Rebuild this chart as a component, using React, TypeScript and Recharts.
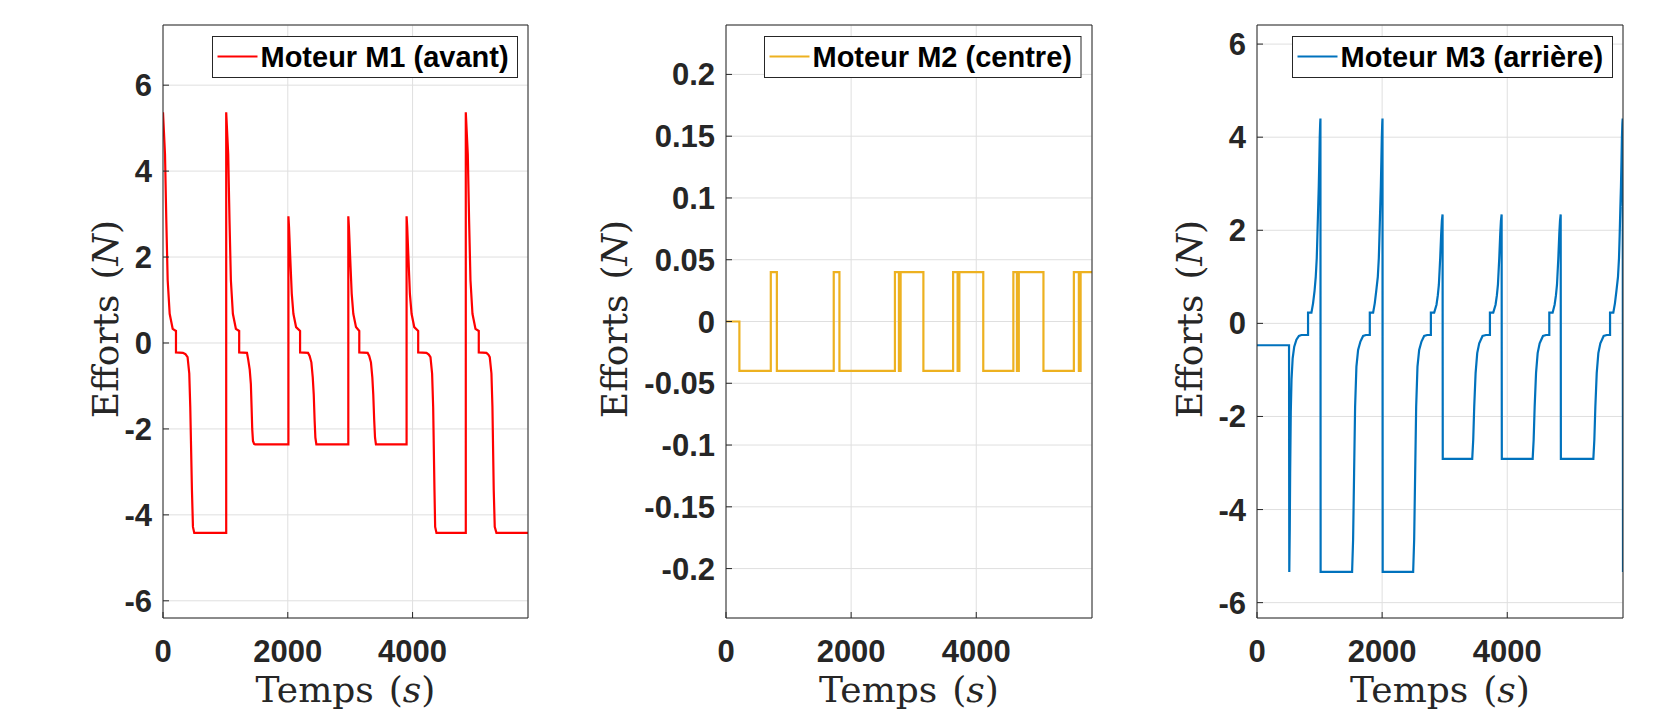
import React from "react";
import { CartesianGrid, Line, LineChart, XAxis, YAxis } from "recharts";

const timeMax = 5850;
const timeTicks = [0, 2000, 4000];

const m1Ticks = [-6, -4, -2, 0, 2, 4, 6];
const m2Ticks = [-0.2, -0.15, -0.1, -0.05, 0, 0.05, 0.1, 0.15, 0.2];
const m3Ticks = [-6, -4, -2, 0, 2, 4, 6];

// Moteur M1 (avant) : [temps (s), effort (N)]
const m1Points: [number, number][] = [
  [0, 5.37], [32, 4.4], [53, 2.85], [75, 1.46], [107, 0.68], [155, 0.33], [208, 0.28],
  [208, -0.22], [320, -0.23], [360, -0.26], [394, -0.33], [421, -0.71], [437, -1.49],
  [464, -3.43], [480, -4.28], [501, -4.42], [1013, -4.42],
  [1013, 5.37], [1045, 4.4], [1066, 2.85], [1088, 1.46], [1120, 0.68], [1168, 0.33], [1221, 0.28],
  [1221, -0.22], [1346, -0.23], [1365, -0.38], [1390, -0.62], [1408, -0.95], [1420, -1.5],
  [1430, -2.0], [1442, -2.28], [1460, -2.35], [1477, -2.36], [2010, -2.36],
  [2010, 2.95], [2020, 2.7], [2037, 2.08], [2064, 1.15], [2090, 0.68], [2133, 0.37], [2197, 0.28],
  [2197, -0.22], [2325, -0.23], [2350, -0.3], [2378, -0.45], [2400, -0.8], [2416, -1.2],
  [2430, -1.8], [2442, -2.2], [2458, -2.36], [2970, -2.36],
  [2970, 2.95], [2980, 2.7], [2997, 2.08], [3024, 1.15], [3050, 0.68], [3093, 0.37], [3146, 0.28],
  [3146, -0.22], [3280, -0.23], [3305, -0.3], [3333, -0.45], [3355, -0.8], [3370, -1.2],
  [3385, -1.8], [3398, -2.2], [3413, -2.36], [3904, -2.36],
  [3904, 2.95], [3914, 2.7], [3931, 2.08], [3957, 1.15], [3984, 0.68], [4027, 0.37], [4090, 0.28],
  [4090, -0.22], [4223, -0.23], [4260, -0.27], [4287, -0.33], [4313, -0.71], [4330, -1.49],
  [4351, -3.43], [4362, -4.28], [4383, -4.42], [4853, -4.42],
  [4853, 5.37], [4885, 4.4], [4906, 2.85], [4928, 1.46], [4960, 0.68], [5008, 0.33], [5061, 0.28],
  [5061, -0.22], [5184, -0.23], [5215, -0.27], [5237, -0.33], [5264, -0.71], [5280, -1.49],
  [5301, -3.43], [5317, -4.28], [5344, -4.42], [5850, -4.42],
];

// Moteur M2 (centre)
const m2Points: [number, number][] = [
  [0, 0], [214, 0], [214, -0.04], [716, -0.04], [716, 0.04], [813, 0.04], [813, -0.04],
  [1722, -0.04], [1722, 0.04], [1813, 0.04], [1813, -0.04], [2700, -0.04], [2700, 0.04],
  [2764, 0.04], [2764, -0.04], [2791, -0.04], [2791, 0.04], [3155, 0.04], [3155, -0.04],
  [3630, -0.04], [3630, 0.04], [3702, 0.04], [3702, -0.04], [3730, -0.04], [3730, 0.04],
  [4112, 0.04], [4112, -0.04], [4593, -0.04], [4593, 0.04], [4650, 0.04], [4650, -0.04],
  [4680, -0.04], [4680, 0.04], [5074, 0.04], [5074, -0.04], [5560, -0.04], [5560, 0.04],
  [5640, 0.04], [5640, -0.04], [5668, -0.04], [5668, 0.04], [5850, 0.04],
];

// Moteur M3 (arrière)
const m3Points: [number, number][] = [
  [0, -0.47], [512, -0.47], [516, -5.34], [524, -4.4], [530, -3.2], [540, -1.9], [552, -1.2],
  [570, -0.75], [595, -0.5], [630, -0.35], [670, -0.27], [710, -0.25], [816, -0.25],
  [816, 0.23], [870, 0.23], [896, 0.43], [920, 0.7], [939, 1.0], [955, 1.4], [965, 1.86],
  [978, 2.5], [987, 2.93], [996, 3.5], [1003, 4.0], [1010, 4.3], [1014, 4.4], [1017, -5.34],
  [1520, -5.34], [1536, -4.65], [1552, -3.22], [1568, -1.79], [1589, -0.93], [1616, -0.57],
  [1653, -0.39], [1696, -0.27], [1740, -0.25], [1803, -0.25], [1803, 0.23], [1856, 0.23],
  [1882, 0.43], [1906, 0.7], [1931, 1.0], [1947, 1.4], [1957, 1.86], [1970, 2.5], [1979, 2.93],
  [1988, 3.5], [1995, 4.0], [2002, 4.3], [2006, 4.4], [2009, -5.34],
  [2496, -5.34], [2512, -4.65], [2528, -3.22], [2544, -1.79], [2565, -0.93], [2592, -0.57],
  [2629, -0.39], [2672, -0.27], [2720, -0.25], [2779, -0.25], [2779, 0.23], [2832, 0.23],
  [2869, 0.4], [2890, 0.6], [2907, 0.83], [2928, 1.4], [2944, 1.93], [2955, 2.2], [2966, 2.34],
  [2969, -2.91],
  [3440, -2.91], [3456, -2.5], [3472, -1.79], [3494, -1.07], [3520, -0.64], [3552, -0.43],
  [3605, -0.27], [3660, -0.25], [3723, -0.25], [3723, 0.23], [3776, 0.23], [3813, 0.4],
  [3834, 0.6], [3851, 0.83], [3872, 1.4], [3888, 1.93], [3899, 2.2], [3910, 2.34], [3913, -2.91],
  [4406, -2.91], [4422, -2.5], [4438, -1.79], [4460, -1.07], [4486, -0.64], [4518, -0.43],
  [4571, -0.27], [4620, -0.25], [4672, -0.25], [4672, 0.23], [4725, 0.23], [4757, 0.4],
  [4778, 0.6], [4795, 0.83], [4816, 1.4], [4832, 1.93], [4843, 2.2], [4854, 2.34], [4857, -2.91],
  [5376, -2.91], [5392, -2.5], [5408, -1.79], [5430, -1.07], [5456, -0.64], [5488, -0.43],
  [5541, -0.27], [5590, -0.25], [5643, -0.25], [5643, 0.23], [5695, 0.23], [5721, 0.43],
  [5745, 0.7], [5770, 1.0], [5786, 1.4], [5796, 1.86], [5808, 2.5], [5817, 2.93], [5826, 3.5],
  [5833, 4.0], [5840, 4.3], [5845, 4.4], [5850, -5.34],
];

const AXIS = "#262626";
const GRID = "#dfdfdf";
const SANS = "'Liberation Sans', Arial, sans-serif";
const SERIF = "'DejaVu Serif', serif";
const H = 713;

const toRows = (pts: [number, number][]) => pts.map(([t, f]) => ({ t, f }));

type PanelProps = {
  left: number;
  width: number;
  axisWidth: number;
  marginRight: number;
  points: [number, number][];
  color: string;
  domain: [number, number];
  ticks: number[];
};

function Panel({ left, width, axisWidth, marginRight, points, color, domain, ticks }: PanelProps) {
  const tickStyle = { fill: AXIS, fontSize: 31, fontWeight: 700, fontFamily: SANS };
  return (
    <div style={{ position: "absolute", left, top: 0 }}>
      <LineChart
        width={width}
        height={H}
        data={toRows(points)}
        margin={{ top: 24, right: marginRight, bottom: 35, left: 0 }}
      >
        <CartesianGrid stroke={GRID} />
        <XAxis
          dataKey="t"
          type="number"
          domain={[0, timeMax]}
          allowDataOverflow
          ticks={timeTicks}
          interval={0}
          height={60}
          tickSize={-6}
          tickMargin={28}
          axisLine={{ stroke: AXIS }}
          tickLine={{ stroke: AXIS }}
          tick={tickStyle}
        />
        <XAxis
          xAxisId="top"
          orientation="top"
          type="number"
          domain={[0, timeMax]}
          allowDataOverflow
          ticks={timeTicks}
          interval={0}
          height={1}
          tickSize={-6}
          axisLine={{ stroke: AXIS }}
          tickLine={{ stroke: AXIS }}
          tick={false}
        />
        <YAxis
          type="number"
          domain={domain}
          allowDataOverflow
          ticks={ticks}
          interval={0}
          width={axisWidth}
          tickSize={-6}
          tickMargin={17}
          axisLine={{ stroke: AXIS }}
          tickLine={{ stroke: AXIS }}
          tick={tickStyle}
        />
        <YAxis
          yAxisId="right"
          orientation="right"
          type="number"
          domain={domain}
          allowDataOverflow
          ticks={ticks}
          interval={0}
          width={1}
          tickSize={-6}
          axisLine={{ stroke: AXIS }}
          tickLine={{ stroke: AXIS }}
          tick={false}
        />
        <Line
          dataKey="f"
          type="linear"
          stroke={color}
          strokeWidth={2.2}
          dot={false}
          activeDot={false}
          isAnimationActive={false}
        />
      </LineChart>
    </div>
  );
}

function LegendBox({ x, w, color, label }: { x: number; w: number; color: string; label: string }) {
  return (
    <g>
      <rect x={x} y={36.5} width={w} height={41} fill="#fff" stroke={AXIS} strokeWidth={1} />
      <line x1={x + 5} x2={x + 45} y1={56.5} y2={56.5} stroke={color} strokeWidth={2.2} />
      <text x={x + 48} y={67} fontFamily={SANS} fontWeight={700} fontSize={29} fill="#000">
        {label}
      </text>
    </g>
  );
}

function XTitle({ cx }: { cx: number }) {
  return (
    <text x={cx} y={702} textAnchor="middle" fontFamily={SERIF} fontSize={36} fill={AXIS}>
      Temps<tspan dx={15}>(</tspan>
      <tspan fontStyle="italic">s</tspan>)
    </text>
  );
}

function YTitle({ bx }: { bx: number }) {
  return (
    <text
      transform={`translate(${bx}, 319) rotate(-90)`}
      textAnchor="middle"
      fontFamily={SERIF}
      fontSize={36}
      fill={AXIS}
    >
      Efforts<tspan dx={15}>(</tspan>
      <tspan fontStyle="italic">N</tspan>)
    </text>
  );
}

export default function App() {
  return (
    <div style={{ position: "absolute", left: 0, top: 0, width: 1673, height: H, background: "#fff" }}>
      <Panel left={0} width={560} axisWidth={163} marginRight={31} points={m1Points} color="#ff0000" domain={[-6.4, 7.4]} ticks={m1Ticks} />
      <Panel left={560} width={560} axisWidth={166} marginRight={27} points={m2Points} color="#edb120" domain={[-0.24, 0.24]} ticks={m2Ticks} />
      <Panel left={1120} width={553} axisWidth={137} marginRight={49} points={m3Points} color="#0072bd" domain={[-6.33, 6.41]} ticks={m3Ticks} />
      <svg
        width={1673}
        height={H}
        style={{ position: "absolute", left: 0, top: 0, pointerEvents: "none" }}
      >
        <LegendBox x={212.5} w={305} color="#ff0000" label="Moteur M1 (avant)" />
        <LegendBox x={764.5} w={316.5} color="#edb120" label="Moteur M2 (centre)" />
        <LegendBox x={1292.5} w={320} color="#0072bd" label="Moteur M3 (arrière)" />
        <XTitle cx={345.5} />
        <XTitle cx={909} />
        <XTitle cx={1440} />
        <YTitle bx={118} />
        <YTitle bx={627} />
        <YTitle bx={1202} />
      </svg>
    </div>
  );
}
